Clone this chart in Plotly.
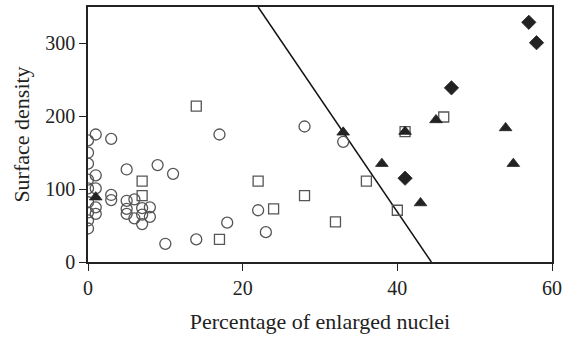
import plotly.graph_objects as go

# Open circles
circle_x = [0, 0, 0, 0, 0, 0, 0, 0, 0, 1, 1, 1, 1, 1, 3, 3, 3, 5, 5, 5, 5, 6, 6, 7, 7, 7, 8, 8,
            9, 10, 11, 14, 17, 18, 22, 23, 28, 33]
circle_y = [167, 150, 135, 113, 101, 82, 68, 57, 46, 175, 119, 101, 75, 66, 169, 92, 85, 127, 84, 73, 66, 86, 60, 74, 65, 52, 75, 62,
            133, 25, 121, 31, 175, 54, 71, 41, 186, 165]

# Open squares
square_x = [7, 7, 14, 17, 22, 24, 28, 32, 36, 40, 41, 46]
square_y = [111, 91, 214, 31, 111, 73, 91, 55, 111, 71, 179, 199]

# Filled triangles
tri_x = [1, 33, 38, 41, 43, 45, 54, 55]
tri_y = [89, 178, 135, 179, 81, 195, 184, 135]

# Filled diamonds
dia_x = [41, 47, 57, 58]
dia_y = [115, 239, 329, 301]

# Discriminant line endpoints
line_x = [22.0, 44.4]
line_y = [350, 0]

fig = go.Figure()
fig.add_trace(go.Scatter(x=line_x, y=line_y, mode="lines",
                         line=dict(color="#111", width=1.5), showlegend=False))
fig.add_trace(go.Scatter(x=circle_x, y=circle_y, mode="markers",
                         marker=dict(symbol="circle-open", size=11, color="#555",
                                     line=dict(width=1.3, color="#555")), showlegend=False))
fig.add_trace(go.Scatter(x=square_x, y=square_y, mode="markers",
                         marker=dict(symbol="square-open", size=10, color="#555",
                                     line=dict(width=1.3, color="#555")), showlegend=False))
fig.add_trace(go.Scatter(x=tri_x, y=tri_y, mode="markers",
                         marker=dict(symbol="triangle-up", size=11, color="#222",
                                     line=dict(width=0.8, color="#222")), showlegend=False))
fig.add_trace(go.Scatter(x=dia_x, y=dia_y, mode="markers",
                         marker=dict(symbol="diamond", size=11, color="#222",
                                     line=dict(width=0.8, color="#222")), showlegend=False))

font = dict(family="Liberation Serif, Times New Roman, serif", size=18, color="#222")
tickfont = dict(family="Liberation Serif, Times New Roman, serif", size=20, color="#222")
fig.update_layout(
    width=562, height=337,
    margin=dict(l=88, r=10, t=7, b=75, autoexpand=False),
    plot_bgcolor="white", paper_bgcolor="white",
    font=font,
    xaxis=dict(range=[0, 60], tickvals=[0, 20, 40, 60], showgrid=False, zeroline=False,
               showline=True, linecolor="#222", linewidth=2, mirror=True, automargin=False,
               ticks="outside", ticklen=7, tickwidth=1.3, tickcolor="#222", tickfont=tickfont,
               title=dict(text="Percentage of enlarged nuclei", standoff=16)),
    yaxis=dict(range=[0, 350], tickvals=[0, 100, 200, 300], showgrid=False, zeroline=False,
               showline=True, linecolor="#222", linewidth=1.5, mirror=True, automargin=False,
               ticks="outside", ticklen=7, tickwidth=1.3, tickcolor="#222", tickfont=tickfont,
               title=dict(text="Surface density", standoff=10)),
)
fig.write_html("out.html")
